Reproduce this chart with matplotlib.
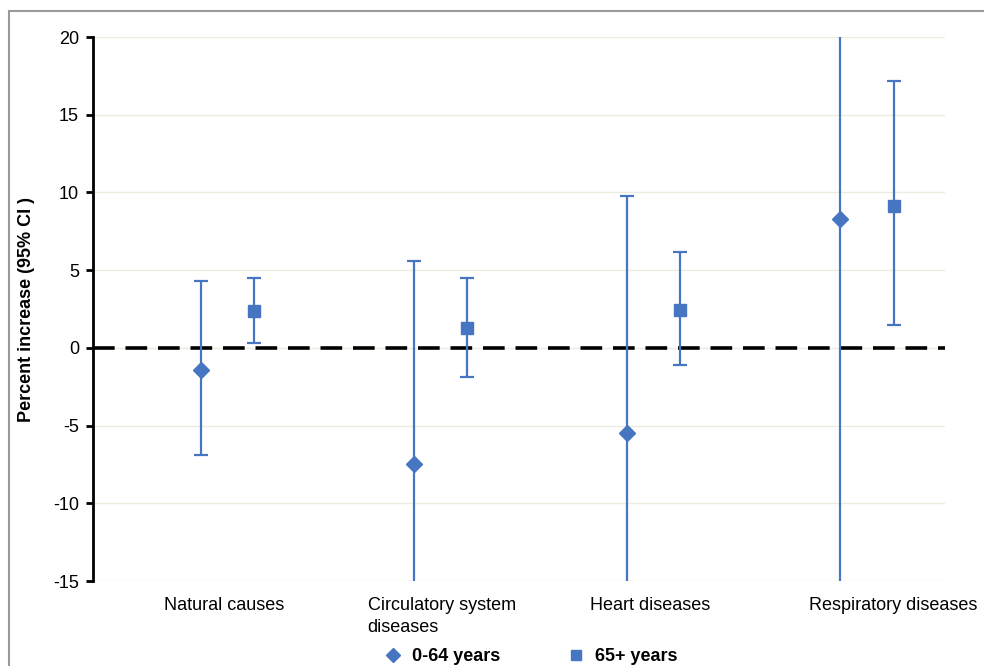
import matplotlib
matplotlib.use('Agg')
import matplotlib.pyplot as plt
import numpy as np
from matplotlib.patches import Rectangle
from matplotlib.lines import Line2D

plt.rcParams['font.family'] = ['Liberation Sans', 'DejaVu Sans']
plt.rcParams['axes.unicode_minus'] = False

causes = ['Natural causes', 'Circulatory system\ndiseases', 'Heart diseases', 'Respiratory diseases']

# 0-64 years: estimate, lower CI, upper CI (values past the axis are clipped in the original)
young = [-1.4, -7.5, -5.5, 8.3]
young_lo = [-6.9, -22.0, -25.0, -22.0]
young_hi = [4.3, 5.6, 9.8, 28.0]

# 65+ years
old = [2.4, 1.3, 2.45, 9.1]
old_lo = [0.3, -1.9, -1.1, 1.5]
old_hi = [4.5, 4.5, 6.2, 17.2]

blue = '#4675C2'

fig = plt.figure(figsize=(9.84, 6.66), dpi=100)
ax = fig.add_axes([0.0945, 0.1276, 0.8655, 0.8168])

# grey frame around the chart (cropped at bottom/right like the original)
fig.patches.append(Rectangle((9/984, -0.1), 1.2, (666-11)/666 + 0.1, transform=fig.transFigure,
                             fill=False, edgecolor='#9a9a9a', lw=1.5))

ind = np.arange(len(causes))
off = 0.25

for y in range(-15, 21, 5):
    ax.axhline(y, color='#ecebe0', lw=1, zorder=0)

ax.axhline(0, color='black', lw=2.6, dashes=(6, 3), zorder=1)

y = np.array(young)
ax.errorbar(ind, y, yerr=[y - np.array(young_lo), np.array(young_hi) - y],
            fmt='D', color=blue, ms=8, lw=1.6, capsize=5, capthick=1.6, zorder=3)
o = np.array(old)
ax.errorbar(ind + off, o, yerr=[o - np.array(old_lo), np.array(old_hi) - o],
            fmt='s', color=blue, ms=8, lw=1.6, capsize=5, capthick=1.6, zorder=3)

ax.set_xlim(-0.507, 3.49)
ax.set_ylim(-15, 20)
ax.set_yticks(range(-15, 21, 5))
ax.set_xticks([])
for s in ['top', 'right', 'bottom']:
    ax.spines[s].set_visible(False)
ax.spines['left'].set_linewidth(2)
ax.tick_params(axis='y', length=5, width=2, labelsize=13, pad=5)
ax.set_ylabel('Percent increase (95% CI )', fontsize=13, fontweight='bold', labelpad=13)

lab_x = [0.11, 1.13, 2.11, 3.25]
for i, c in enumerate(causes):
    ax.text(lab_x[i], -16.0, c, ha='center', va='top', fontsize=13,
            multialignment='left', linespacing=1.45, clip_on=False)

handles = [Line2D([], [], marker='D', color=blue, ls='none', ms=7),
           Line2D([], [], marker='s', color=blue, ls='none', ms=7)]
leg = fig.legend(handles, ['0-64 years', '65+ years'], loc='center', ncol=2,
                 bbox_to_anchor=(0.535, 0.014), frameon=False, handletextpad=0.05,
                 columnspacing=3.2, prop={'weight': 'bold', 'size': 13})

fig.savefig('out.png', dpi=100)
